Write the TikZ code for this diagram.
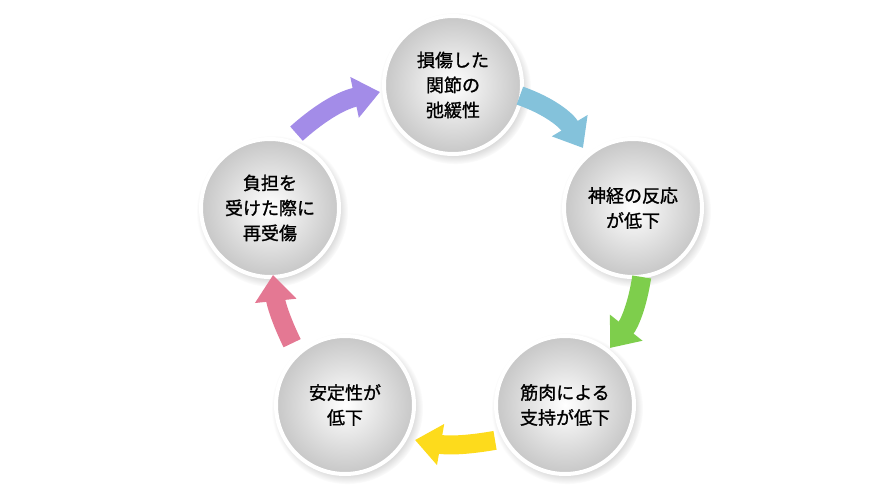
\documentclass[tikz,border=0pt]{standalone}
\usepackage{fontspec}
\setmainfont[FakeBold=1.2]{Noto Sans CJK JP}
\usetikzlibrary{shadows,arrows.meta}
\tikzset{
 ball/.style={circle,minimum size=138pt,draw=white,line width=4pt,
   inner color=white,outer color=black!22,
   circular drop shadow={shadow xshift=2pt,shadow yshift=-3pt,opacity=0.35},
   align=center,font=\fontsize{18}{25}\selectfont},
 arr/.style={line width=19pt,-{Triangle[width=40pt,length=26pt]},shorten <=2pt}
}
\begin{document}
\begin{tikzpicture}[x=1pt,y=-1pt]
\useasboundingbox (0,0) rectangle (896,500);
\node[ball] (a) at (453,85) {損傷した\\関節の\\弛緩性};
\node[ball] (b) at (633,208) {神経の反応\\が低下};
\node[ball] (c) at (565,405) {筋肉による\\支持が低下};
\node[ball] (d) at (345,405) {安定性が\\低下};
\node[ball] (e) at (270,208) {負担を\\受けた際に\\再受傷};
\coordinate (a1) at (518,95); \coordinate (a2) at (583,148);
\coordinate (b1) at (642,275); \coordinate (b2) at (610,348);
\coordinate (c1) at (497,440); \coordinate (c2) at (415,440);
\coordinate (d1) at (293,345); \coordinate (d2) at (273,275);
\coordinate (e1) at (295,135); \coordinate (e2) at (380,92);
\draw[arr,color=cyan!50!teal!55] (a1) to[bend left=20] (a2);
\draw[arr,color=green!45!olive!70] (b1) to[bend left=15] (b2);
\draw[arr,color=yellow!75!orange!90] (c1) to[bend left=10] (c2);
\draw[arr,color=purple!50!pink!85] (d1) to[bend left=10] (d2);
\draw[arr,color=violet!40!blue!45] (e1) to[bend left=15] (e2);
\end{tikzpicture}
\end{document}
